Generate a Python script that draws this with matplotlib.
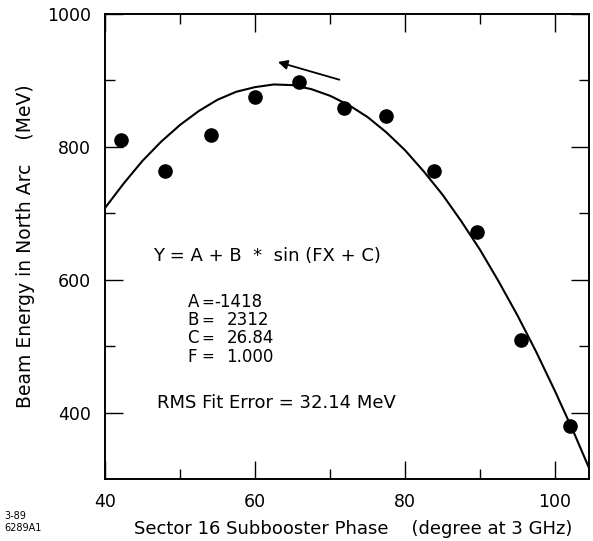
import matplotlib
matplotlib.use("Agg")
import matplotlib.pyplot as plt

plt.rcParams['font.family'] = ['DejaVu Sans']

# measured points (phase in degrees, energy in MeV)
phase = [42.2, 48.0, 54.2, 60.0, 65.8, 71.8, 77.4, 83.9, 89.6, 95.5, 102.0]
energy = [810, 764, 818, 875, 897, 858, 847, 764, 672, 510, 380]

# fit curve
fit_phase = [40, 42.5, 45, 47.5, 50, 52.5, 55, 57.5, 60, 62.5, 65, 67.5, 70,
             72.5, 75, 77.5, 80, 82.5, 85, 87.5, 90, 92.5, 95, 97.5, 100,
             102.5, 105]
fit_energy = [708, 745, 779, 808, 833, 854, 871, 883, 890, 894, 893, 887, 877,
              863, 845, 822, 795, 763, 728, 688, 645, 597, 546, 491, 432,
              370, 304]

param_names = ["A", "B", "C", "F"]
param_values = ["-1418", "2312", "26.84", "1.000"]

x_major = [40, 60, 80, 100]
x_minor = [50, 70, 90]
y_major = [400, 600, 800, 1000]
y_minor = [500, 700, 900]

fig = plt.figure(figsize=(5.93, 5.41), dpi=100)
ax = fig.add_axes([0.177, 0.1146, 0.816, 0.8594])

ax.plot(fit_phase, fit_energy, color="black", lw=1.5)
ax.plot(phase, energy, "o", color="black", ms=9.5)

ax.set_xlim(40, 104.5)
ax.set_ylim(300, 1000)
ax.set_xticks(x_major)
ax.set_xticks(x_minor, minor=True)
ax.set_yticks(y_major)
ax.set_yticks(y_minor, minor=True)
ax.tick_params(which="both", direction="in", top=True, right=True,
               labelsize=12.5, width=1.0)
ax.tick_params(which="major", length=13, pad=10)
ax.tick_params(which="minor", length=7)
for s in ax.spines.values():
    s.set_linewidth(1.4)

ax.set_xlabel("Sector 16 Subbooster Phase    (degree at 3 GHz)", fontsize=13)
ax.xaxis.set_label_coords(0.514, -0.088)
ax.set_ylabel("Beam Energy in North Arc    (MeV)", fontsize=13.5)
ax.yaxis.set_label_coords(-0.145, 0.5)

# arrow showing direction of phase change
ax.annotate("", xy=(62.7, 929), xytext=(71.6, 900),
            arrowprops=dict(arrowstyle="-|>", color="black", lw=1.3,
                            mutation_scale=14))

ax.text(46.4, 636, "Y = A + B  *  sin (FX + C)", fontsize=13, va="center")
param_y = [566, 539, 512, 484]
for n, v, y in zip(param_names, param_values, param_y):
    ax.text(51.0, y, n, fontsize=12, va="center")
    ax.text(52.8, y, "=", fontsize=11, va="center")
    vx = 54.6 if v.startswith("-") else 56.2
    ax.text(vx, y, v, fontsize=12, va="center")
ax.text(47.0, 415, "RMS Fit Error = 32.14 MeV", fontsize=13, va="center")

fig.text(0.008, 0.040, "3-89", fontsize=7)
fig.text(0.008, 0.018, "6289A1", fontsize=7)

fig.savefig("out.png", dpi=100)
